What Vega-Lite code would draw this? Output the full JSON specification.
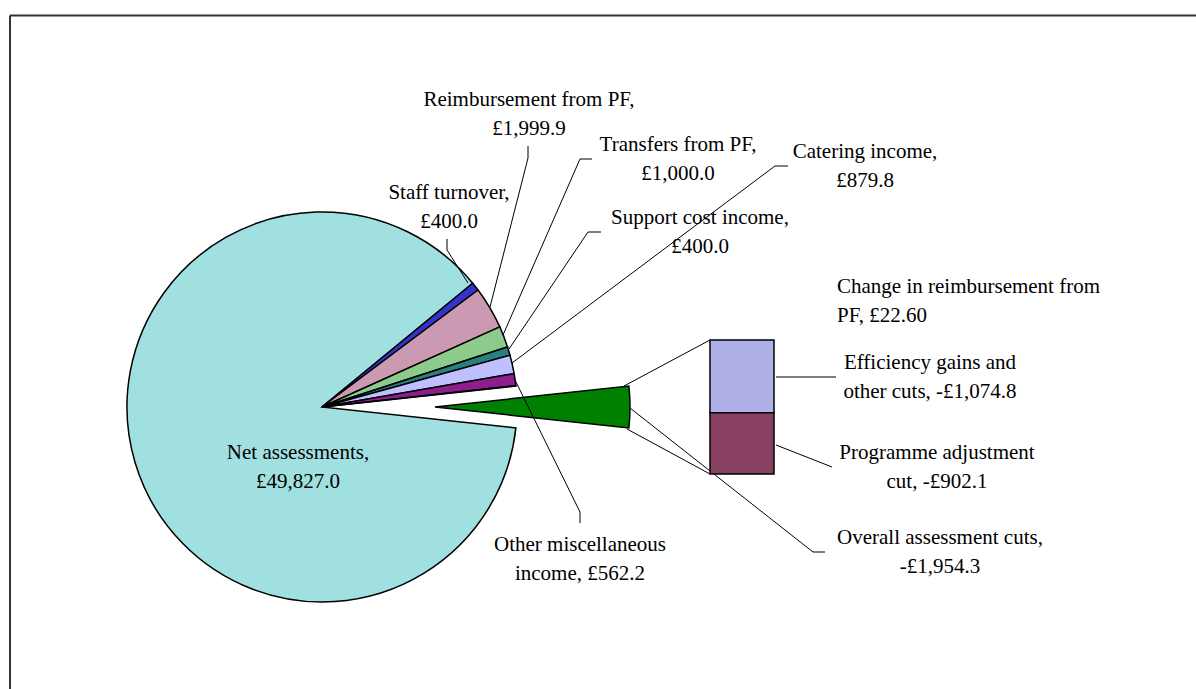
{
  "$schema": "https://vega.github.io/schema/vega-lite/v6.json",
  "width": 1196,
  "height": 689,
  "autosize": "none",
  "padding": 0,
  "background": "white",
  "config": {"view": {"stroke": null}, "axis": {"disable": true}},
  "datasets": {
    "pie": [
      {"order": 1, "name": "Net assessments", "value": 49827.0},
      {"order": 2, "name": "Staff turnover", "value": 400.0},
      {"order": 3, "name": "Reimbursement from PF", "value": 1999.9},
      {"order": 4, "name": "Transfers from PF", "value": 1000.0},
      {"order": 5, "name": "Support cost income", "value": 400.0},
      {"order": 6, "name": "Catering income", "value": 879.8},
      {"order": 7, "name": "Other miscellaneous income", "value": 562.2},
      {"order": 8, "name": "Change in reimbursement from PF", "value": 22.6},
      {"order": 9, "name": "Overall assessment cuts", "value": 1954.3}
    ],
    "bar": [
      {"order": 1, "name": "Efficiency gains and other cuts", "value": 1074.8},
      {"order": 2, "name": "Programme adjustment cut", "value": 902.1}
    ],
    "labels": [
      {"lines": ["Reimbursement from PF,", "£1,999.9"], "x": 529, "y": 100, "anchor": "center"},
      {"lines": ["Transfers from PF,", "£1,000.0"], "x": 678, "y": 145, "anchor": "center"},
      {"lines": ["Catering income,", "£879.8"], "x": 865, "y": 152, "anchor": "center"},
      {"lines": ["Support cost income,", "£400.0"], "x": 700, "y": 218, "anchor": "center"},
      {"lines": ["Staff turnover,", "£400.0"], "x": 449, "y": 193, "anchor": "center"},
      {"lines": ["Change in reimbursement from", "PF, £22.60"], "x": 837, "y": 287, "anchor": "left"},
      {"lines": ["Efficiency gains and", "other cuts, -£1,074.8"], "x": 930, "y": 363, "anchor": "center"},
      {"lines": ["Programme adjustment", "cut, -£902.1"], "x": 937, "y": 453, "anchor": "center"},
      {"lines": ["Overall assessment cuts,", "-£1,954.3"], "x": 940, "y": 538, "anchor": "center"},
      {"lines": ["Net assessments,", "£49,827.0"], "x": 298, "y": 453, "anchor": "center"},
      {"lines": ["Other miscellaneous", "income, £562.2"], "x": 580, "y": 545, "anchor": "center"}
    ],
    "leaders": [
      {"x": 447, "y": 239, "x2": 447, "y2": 250},
      {"x": 447, "y": 250, "x2": 468, "y2": 283},
      {"x": 528, "y": 146, "x2": 528, "y2": 158},
      {"x": 528, "y": 158, "x2": 490, "y2": 307},
      {"x": 592, "y": 159, "x2": 580, "y2": 159},
      {"x": 580, "y": 159, "x2": 503, "y2": 335},
      {"x": 601, "y": 232, "x2": 588, "y2": 232},
      {"x": 588, "y": 232, "x2": 509, "y2": 349},
      {"x": 788, "y": 166, "x2": 775, "y2": 166},
      {"x": 775, "y": 166, "x2": 512, "y2": 363},
      {"x": 580, "y": 523, "x2": 580, "y2": 512},
      {"x": 580, "y": 512, "x2": 514, "y2": 378},
      {"x": 776, "y": 377, "x2": 836, "y2": 377},
      {"x": 776, "y": 445, "x2": 832, "y2": 467},
      {"x": 825, "y": 552, "x2": 813, "y2": 552},
      {"x": 813, "y": 552, "x2": 630, "y2": 408},
      {"x": 624, "y": 386, "x2": 710, "y2": 340},
      {"x": 627, "y": 429, "x2": 710, "y2": 474}
    ]
  },
  "layer": [
    {
      "layer": [
        {
          "data": {"values": [{}]},
          "mark": {"type": "rule", "color": "#333333", "strokeWidth": 2},
          "encoding": {
            "x": {"datum": 10, "type": "quantitative", "scale": {"domain": [0, 1196], "nice": false, "zero": false}},
            "x2": {"datum": 1196},
            "y": {"datum": 15.5, "type": "quantitative", "scale": {"domain": [0, 689], "nice": false, "zero": false, "reverse": true}}
          }
        },
        {
          "data": {"values": [{}]},
          "mark": {"type": "rule", "color": "#333333", "strokeWidth": 2},
          "encoding": {
            "x": {"datum": 10, "type": "quantitative"},
            "y": {"datum": 15.5, "type": "quantitative"},
            "y2": {"datum": 689}
          }
        },
        {
          "data": {"name": "pie"},
          "transform": [
            {"stack": "value", "groupby": [], "sort": [{"field": "order", "order": "ascending"}], "as": ["s0", "s1"]},
            {"filter": "datum.name !== 'Overall assessment cuts'"}
          ],
          "mark": {"type": "arc", "outerRadius": 195, "stroke": "black", "strokeWidth": 1.5},
          "encoding": {
            "x": {"datum": 322, "type": "quantitative"},
            "y": {"datum": 407, "type": "quantitative"},
            "theta": {"field": "s1", "type": "quantitative", "stack": null, "scale": {"range": [1.678423, 7.961608], "nice": false, "zero": true}},
            "theta2": {"field": "s0"},
            "color": {
              "field": "name", "type": "nominal", "legend": null,
              "scale": {
                "domain": ["Net assessments", "Staff turnover", "Reimbursement from PF", "Transfers from PF", "Support cost income", "Catering income", "Other miscellaneous income", "Change in reimbursement from PF", "Overall assessment cuts", "Efficiency gains and other cuts", "Programme adjustment cut"],
                "range": ["#A1E0E0", "#3333CC", "#CC99B3", "#8CCB8C", "#2A8080", "#C0C0FF", "#8E1E8E", "#3A9090", "#008000", "#B0B0E8", "#884060"]
              }
            }
          }
        },
        {
          "data": {"name": "pie"},
          "transform": [
            {"stack": "value", "groupby": [], "sort": [{"field": "order", "order": "ascending"}], "as": ["s0", "s1"]},
            {"filter": "datum.name === 'Overall assessment cuts'"}
          ],
          "mark": {"type": "arc", "outerRadius": 195, "stroke": "black", "strokeWidth": 1.5},
          "encoding": {
            "x": {"datum": 435, "type": "quantitative"},
            "y": {"datum": 407, "type": "quantitative"},
            "theta": {"field": "s1", "type": "quantitative", "stack": null},
            "theta2": {"field": "s0"},
            "color": {"field": "name", "type": "nominal", "legend": null}
          }
        },
        {
          "data": {"name": "leaders"},
          "mark": {"type": "rule", "color": "black", "strokeWidth": 1},
          "encoding": {
            "x": {"field": "x", "type": "quantitative"},
            "y": {"field": "y", "type": "quantitative"},
            "x2": {"field": "x2"},
            "y2": {"field": "y2"}
          }
        },
        {
          "data": {"name": "labels"},
          "transform": [{"filter": "datum.anchor === 'center'"}],
          "mark": {"type": "text", "font": "Liberation Serif", "fontSize": 21, "lineHeight": 28.5, "align": "center", "baseline": "middle", "color": "black"},
          "encoding": {
            "x": {"field": "x", "type": "quantitative"},
            "y": {"field": "y", "type": "quantitative"},
            "text": {"field": "lines"}
          }
        },
        {
          "data": {"name": "labels"},
          "transform": [{"filter": "datum.anchor === 'left'"}],
          "mark": {"type": "text", "font": "Liberation Serif", "fontSize": 21, "lineHeight": 28.5, "align": "left", "baseline": "middle", "color": "black"},
          "encoding": {
            "x": {"field": "x", "type": "quantitative"},
            "y": {"field": "y", "type": "quantitative"},
            "text": {"field": "lines"}
          }
        }
      ]
    },
    {
      "data": {"name": "bar"},
      "transform": [
        {"stack": "value", "groupby": [], "sort": [{"field": "order", "order": "descending"}], "as": ["b0", "b1"]}
      ],
      "mark": {"type": "rect", "stroke": "black", "strokeWidth": 1.5},
      "encoding": {
        "x": {"datum": 710, "type": "quantitative"},
        "x2": {"datum": 774},
        "y": {"field": "b0", "type": "quantitative", "scale": {"range": [474, 340], "nice": false, "zero": true}},
        "y2": {"field": "b1"},
        "color": {"field": "name", "type": "nominal", "legend": null}
      }
    }
  ],
  "resolve": {"scale": {"y": "independent"}}
}
